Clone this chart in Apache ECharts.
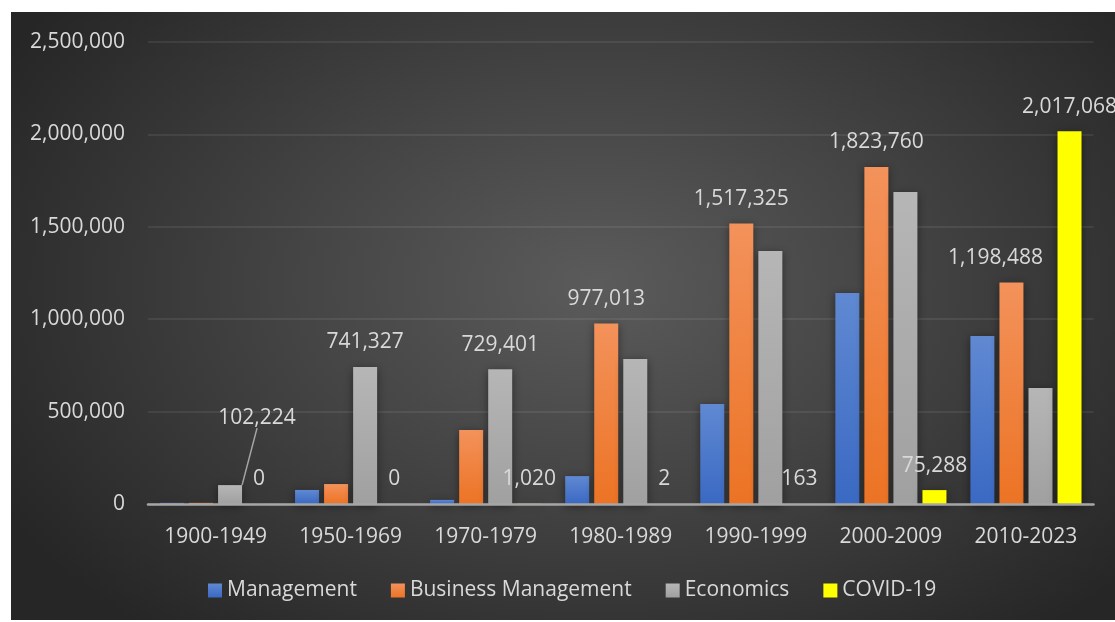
<!DOCTYPE html>
<html>
<head>
<meta charset="utf-8">
<script src="https://cdn.jsdelivr.net/npm/echarts@6/dist/echarts.min.js"></script>
<style>
  html, body { margin: 0; padding: 0; background: #ffffff; }
  #chart {
    position: absolute; left: 11px; top: 12px; width: 1104px; height: 608px;
    background: radial-gradient(ellipse 62% 75% at 53% 45%, #5b5b5b 0%, #444444 45%, #262626 100%);
  }
</style>
</head>
<body>
<div id="chart"></div>
<script>
// Publication counts per period and field
const categories = ['1900-1949', '1950-1969', '1970-1979', '1980-1989', '1990-1999', '2000-2009', '2010-2023'];
const management = [6000, 76000, 22000, 151000, 541000, 1142000, 909000];
const businessManagement = [6000, 108000, 400000, 977013, 1517325, 1823760, 1198488];
const economics = [102224, 741327, 729401, 785000, 1369000, 1688000, 628000];
const covid19 = [0, 0, 1020, 2, 163, 75288, 2017068];
const yTicks = { min: 0, max: 2500000, step: 500000 };

const FONT = 'Open Sans';
const TEXT = '#d9d9d9';

const fmt = v => Number(v).toLocaleString('en-US');

function grad(top, bottom) {
  return new echarts.graphic.LinearGradient(0, 0, 0, 1, [
    { offset: 0, color: top },
    { offset: 1, color: bottom }
  ]);
}

const labelBase = {
  show: true,
  position: 'top',
  distance: 14,
  color: TEXT,
  fontFamily: FONT,
  fontSize: 21,
  formatter: p => fmt(p.value)
};

// Only some bars carry value labels; indices listed per series
function withLabels(values, shown, extra) {
  return values.map((v, i) => {
    const item = { value: v };
    if (shown.includes(i)) {
      item.label = Object.assign({}, labelBase, (extra && extra[i]) || {});
    } else {
      item.label = { show: false };
    }
    return item;
  });
}

const shadow = { shadowBlur: 8, shadowColor: 'rgba(0,0,0,0.45)', shadowOffsetY: 2 };

const chart = echarts.init(document.getElementById('chart'), null, { renderer: 'canvas' });

const econData = withLabels(economics, [0, 1, 2]);
econData[0].labelLine = { show: true, lineStyle: { color: '#a6a6a6', width: 1.5 } };

chart.setOption({
  backgroundColor: 'transparent',
  animation: false,
  textStyle: { fontFamily: FONT },
  grid: { left: 137, right: 21.5, top: 30, bottom: 116, containLabel: false },
  legend: {
    left: 192,
    top: 563,
    icon: 'rect',
    itemWidth: 14,
    itemHeight: 14,
    itemGap: 34,
    textStyle: { color: TEXT, fontSize: 21, fontFamily: FONT },
    data: ['Management', 'Business Management', 'Economics', 'COVID-19']
  },
  xAxis: {
    type: 'category',
    data: categories,
    z: 5,
    axisTick: { show: false },
    axisLine: { lineStyle: { color: '#a6a6a6', width: 2.5 } },
    axisLabel: { color: TEXT, fontSize: 21, fontFamily: FONT, margin: 23 },
    splitLine: { show: false }
  },
  yAxis: {
    type: 'value',
    min: yTicks.min,
    max: yTicks.max,
    interval: yTicks.step,
    axisLine: { show: false },
    axisTick: { show: false },
    axisLabel: { color: TEXT, fontSize: 21, fontFamily: FONT, margin: 23, formatter: fmt },
    splitLine: { lineStyle: { color: 'rgba(255,255,255,0.1)', width: 1.5 } }
  },
  series: [
    {
      name: 'Management',
      type: 'bar',
      barWidth: 24,
      barGap: '21%',
      itemStyle: Object.assign({ color: grad('#6089d2', '#3a69c3') }, shadow),
      data: withLabels(management, [])
    },
    {
      name: 'Business Management',
      type: 'bar',
      barWidth: 24,
      barGap: '21%',
      itemStyle: Object.assign({ color: grad('#f3925b', '#ec7324') }, shadow),
      data: withLabels(businessManagement, [3, 4, 5, 6], { 6: { offset: [-16, 0] } })
    },
    {
      name: 'Economics',
      type: 'bar',
      barWidth: 24,
      barGap: '21%',
      itemStyle: Object.assign({ color: grad('#b6b6b6', '#a0a0a0') }, shadow),
      labelLayout: p => (p.dataIndex === 0 ? { dx: 27, dy: -43 } : {}),
      data: econData
    },
    {
      name: 'COVID-19',
      type: 'bar',
      barWidth: 24,
      barGap: '21%',
      itemStyle: Object.assign({ color: '#ffff00' }, shadow),
      data: withLabels(covid19, [0, 1, 2, 3, 4, 5, 6])
    }
  ]
});
</script>
</body>
</html>
